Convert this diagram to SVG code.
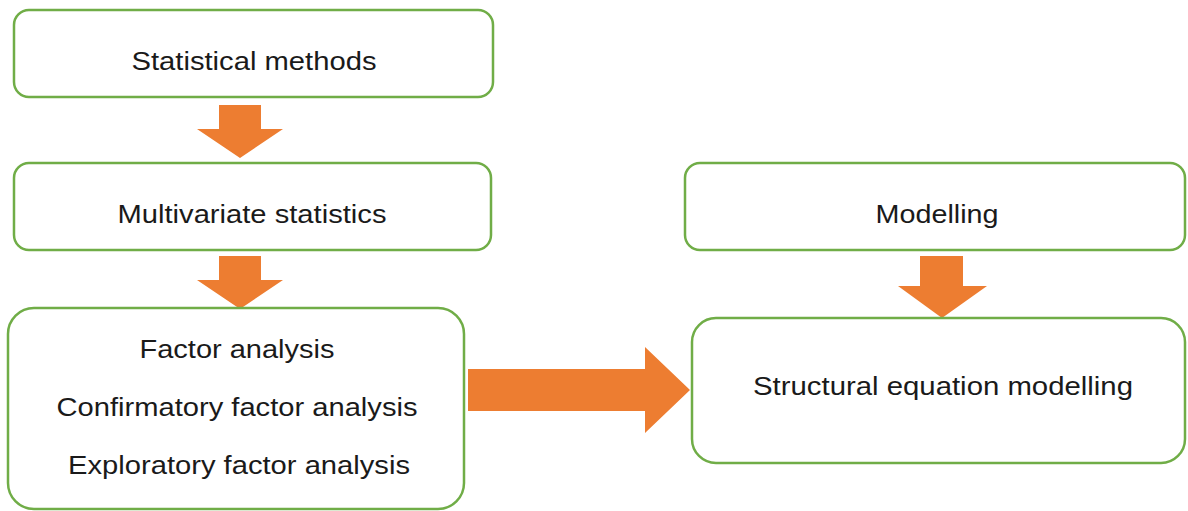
<svg xmlns="http://www.w3.org/2000/svg" width="1188" height="511" viewBox="0 0 1188 511">
  <style>
    .box { fill: #ffffff; stroke: #70ad47; stroke-width: 2.5; }
    .lbl { font-family: "Liberation Sans", Arial, sans-serif; font-size: 25px; fill: #1a1a1a; text-anchor: middle; }
    .arrow { fill: #ed7d31; }
  </style>
  <rect width="1188" height="511" fill="#ffffff"/>

  <g id="connectors">
    <!-- Statistical methods -> Multivariate statistics -->
    <polygon class="arrow" points="219,105 261,105 261,129 283,129 240,158 197,129 219,129"/>
    <!-- Multivariate statistics -> Factor analysis -->
    <polygon class="arrow" points="219,256 261,256 261,280 283,280 240,309 197,280 219,280"/>
    <!-- Modelling -> Structural equation modelling -->
    <polygon class="arrow" points="920,256 963,256 963,286 987,286 942,318 898,286 920,286"/>
    <!-- Factor analysis -> Structural equation modelling -->
    <polygon class="arrow" points="468,369 645,369 645,347 690,390 645,433 645,411 468,411"/>
  </g>

  <g id="statistical-methods">
    <rect class="box" x="14" y="10" width="479" height="87" rx="15"/>
    <text class="lbl" x="254" y="70" textLength="245" lengthAdjust="spacingAndGlyphs">Statistical methods</text>
  </g>

  <g id="multivariate-statistics">
    <rect class="box" x="14" y="163" width="477" height="87" rx="15"/>
    <text class="lbl" x="252" y="223" textLength="269" lengthAdjust="spacingAndGlyphs">Multivariate statistics</text>
  </g>

  <g id="factor-analysis">
    <rect class="box" x="8" y="308" width="456" height="201" rx="26"/>
    <text class="lbl" x="237" y="358" textLength="195" lengthAdjust="spacingAndGlyphs">Factor analysis</text>
    <text class="lbl" x="237" y="416" textLength="361" lengthAdjust="spacingAndGlyphs">Confirmatory factor analysis</text>
    <text class="lbl" x="239" y="474" textLength="342" lengthAdjust="spacingAndGlyphs">Exploratory factor analysis</text>
  </g>

  <g id="modelling">
    <rect class="box" x="685" y="163" width="500" height="87" rx="15"/>
    <text class="lbl" x="937" y="223" textLength="123" lengthAdjust="spacingAndGlyphs">Modelling</text>
  </g>

  <g id="structural-equation-modelling">
    <rect class="box" x="692" y="318" width="493" height="145" rx="24"/>
    <text class="lbl" x="943" y="395" textLength="380" lengthAdjust="spacingAndGlyphs">Structural equation modelling</text>
  </g>
</svg>
